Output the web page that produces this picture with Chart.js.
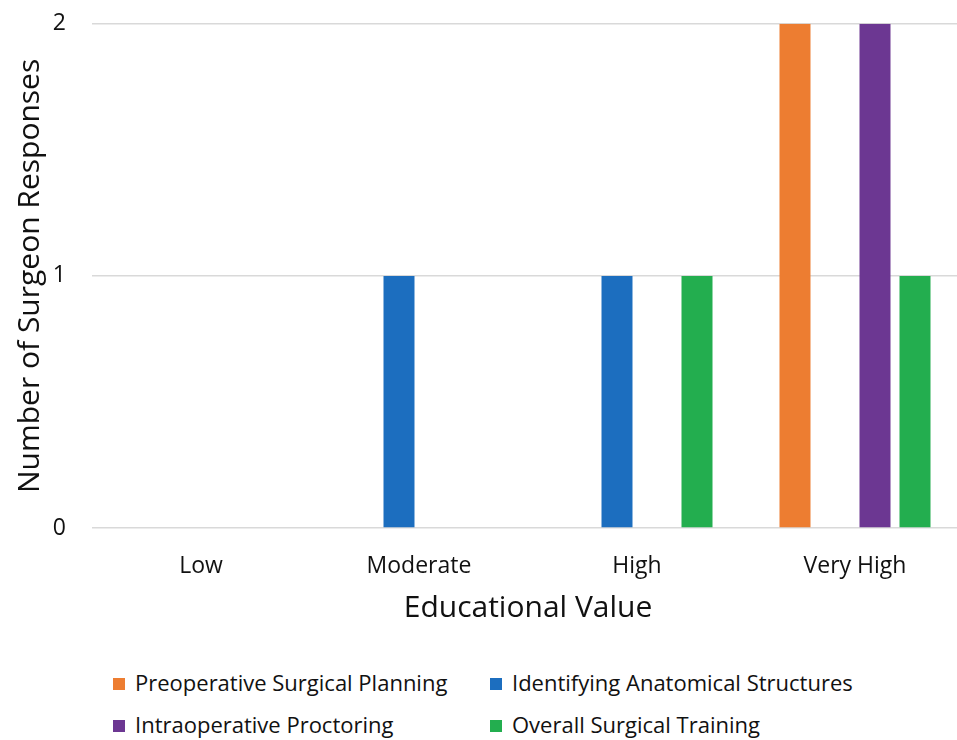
<!DOCTYPE html>
<html>
<head>
<meta charset="utf-8">
<script src="https://cdn.jsdelivr.net/npm/chart.js@4"></script>
<style>
  html, body { margin: 0; padding: 0; background: #fff; overflow: hidden; }
  body { width: 957px; height: 740px; position: relative; font-family: "Open Sans", sans-serif; }
  #wrap { position: absolute; left: 0; top: -16px; width: 964px; height: 666px; }
  #legend { position: absolute; left: 113px; top: 668px; width: 800px; }
  .item { position: absolute; font-size: 22px; color: #111; white-space: nowrap; line-height: 28px; }
  .box { display: inline-block; width: 12px; height: 12px; margin-right: 10px; vertical-align: 1px; }
</style>
</head>
<body>
<div id="wrap"><canvas id="surgeonChart"></canvas></div>
<div id="legend"></div>
<script>
// categorias e séries
const categories = ['Low', 'Moderate', 'High', 'Very High'];
const seriesNames = [
  'Preoperative Surgical Planning',
  'Identifying Anatomical Structures',
  'Intraoperative Proctoring',
  'Overall Surgical Training'
];
const preoperative = [0, 0, 0, 2];
const identifying = [0, 1, 1, 0];
const intraoperative = [0, 0, 0, 2];
const overall = [0, 0, 1, 1];
const yTicks = [0, 1, 2];

const colors = ['#ED7D31', '#1C6EBF', '#6C3792', '#23AE4F'];
const seriesData = [preoperative, identifying, intraoperative, overall];

const fontFamily = '"Open Sans", sans-serif';

new Chart(document.getElementById('surgeonChart'), {
  type: 'bar',
  data: {
    labels: categories,
    datasets: seriesNames.map(function(name, i) {
      return {
        label: name,
        data: seriesData[i],
        backgroundColor: colors[i],
        borderWidth: 0,
        categoryPercentage: 0.734,
        barPercentage: 0.775
      };
    })
  },
  options: {
    responsive: true,
    maintainAspectRatio: false,
    animation: false,
    layout: { padding: { top: 6, right: 0, bottom: 0, left: 0 } },
    plugins: {
      legend: { display: false },
      tooltip: { enabled: false }
    },
    scales: {
      x: {
        grid: { display: false },
        border: { display: false },
        ticks: { color: '#111', font: { family: fontFamily, size: 23 }, padding: 17 },
        title: {
          display: true,
          text: 'Educational Value',
          color: '#111',
          font: { family: fontFamily, size: 30 },
          padding: { top: 4, bottom: 24 }
        },
        afterFit: function(scale) { scale.height = 122; }
      },
      y: {
        min: 0,
        max: 2,
        afterBuildTicks: function(scale) {
          scale.ticks = yTicks.map(function(v) { return { value: v }; });
        },
        grid: { color: '#D9D9D9', lineWidth: 1.5, drawTicks: false },
        border: { display: false },
        ticks: { color: '#111', font: { family: fontFamily, size: 23 }, padding: 26 },
        title: {
          display: true,
          text: 'Number of Surgeon Responses',
          color: '#111',
          font: { family: fontFamily, size: 30 },
          padding: { top: 12, bottom: 0 }
        },
        afterFit: function(scale) { scale.width = 92; }
      }
    }
  }
});

// legenda em HTML, 2 colunas como no original
const legendEl = document.getElementById('legend');
const legendPos = [[0, 0], [377, 0], [0, 42], [377, 42]];
seriesNames.forEach(function(name, i) {
  const div = document.createElement('div');
  div.className = 'item';
  div.style.left = legendPos[i][0] + 'px';
  div.style.top = legendPos[i][1] + 'px';
  div.innerHTML = '<span class="box" style="background:' + colors[i] + '"></span>' + name;
  legendEl.appendChild(div);
});
</script>
</body>
</html>
